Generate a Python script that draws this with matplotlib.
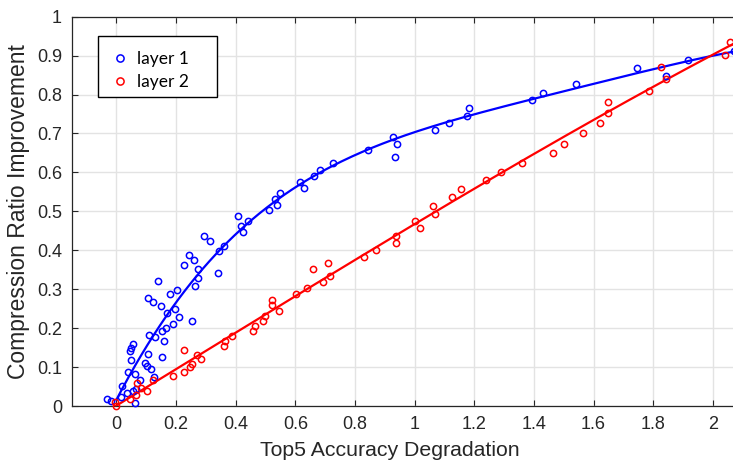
import numpy as np
import matplotlib
matplotlib.use("Agg")
import matplotlib.pyplot as plt
from matplotlib.patches import Rectangle

# layer 1 measurements
layer1_x = [-0.033, -0.019, 0.062, 0.014, 0.020, 0.037, 0.055, 0.065, 0.039, 0.062,
            0.078, 0.126, 0.048, 0.044, 0.050, 0.057, 0.097, 0.104, 0.116, 0.107,
            0.108, 0.129, 0.154, 0.159, 0.154, 0.166, 0.191, 0.209, 0.195, 0.169,
            0.148, 0.106, 0.122, 0.139, 0.181, 0.202, 0.252, 0.265, 0.272, 0.274,
            0.260, 0.243, 0.227, 0.339, 0.293, 0.315, 0.343, 0.361, 0.409, 0.418,
            0.423, 0.441, 0.512, 0.532, 0.539, 0.547, 0.617, 0.630, 0.661, 0.682,
            0.726, 0.842, 0.927, 0.941, 0.934, 1.068, 1.116, 1.176, 1.182, 1.394,
            1.432, 1.540, 1.746, 1.843, 1.916, 2.070]
layer1_y = [0.019, 0.013, 0.007, 0.024, 0.052, 0.033, 0.039, 0.043, 0.087, 0.081,
            0.066, 0.074, 0.117, 0.141, 0.150, 0.158, 0.110, 0.102, 0.096, 0.134,
            0.183, 0.176, 0.126, 0.166, 0.192, 0.201, 0.210, 0.228, 0.248, 0.238,
            0.257, 0.278, 0.267, 0.320, 0.287, 0.298, 0.219, 0.308, 0.330, 0.352,
            0.375, 0.387, 0.363, 0.341, 0.436, 0.423, 0.399, 0.411, 0.489, 0.463,
            0.448, 0.476, 0.503, 0.531, 0.517, 0.547, 0.576, 0.560, 0.592, 0.607,
            0.623, 0.657, 0.692, 0.674, 0.640, 0.709, 0.728, 0.746, 0.766, 0.786,
            0.805, 0.826, 0.868, 0.847, 0.890, 0.913]

# layer 2 measurements
layer2_x = [0.000, -0.005, 0.046, 0.067, 0.082, 0.070, 0.103, 0.123, 0.189, 0.225,
            0.246, 0.255, 0.271, 0.285, 0.228, 0.360, 0.363, 0.386, 0.457, 0.463,
            0.493, 0.498, 0.545, 0.523, 0.523, 0.603, 0.640, 0.658, 0.692, 0.717,
            0.711, 0.831, 0.870, 0.936, 0.938, 1.001, 1.018, 1.060, 1.068, 1.124,
            1.156, 1.239, 1.289, 1.359, 1.463, 1.500, 1.565, 1.620, 1.649, 1.650,
            1.787, 1.827, 1.844, 2.041, 2.059]
layer2_y = [0.000, 0.009, 0.018, 0.028, 0.047, 0.058, 0.038, 0.067, 0.078, 0.088,
            0.099, 0.108, 0.132, 0.121, 0.143, 0.155, 0.167, 0.180, 0.192, 0.205,
            0.218, 0.232, 0.245, 0.259, 0.273, 0.288, 0.304, 0.351, 0.319, 0.335,
            0.367, 0.384, 0.401, 0.419, 0.437, 0.476, 0.456, 0.515, 0.494, 0.536,
            0.558, 0.580, 0.602, 0.625, 0.650, 0.674, 0.700, 0.726, 0.753, 0.781,
            0.809, 0.870, 0.840, 0.901, 0.935]

x_ticks = [0, 0.2, 0.4, 0.6, 0.8, 1, 1.2, 1.4, 1.6, 1.8, 2]
x_tick_labels = ["0", "0.2", "0.4", "0.6", "0.8", "1", "1.2", "1.4", "1.6", "1.8", "2"]
y_ticks = [0, 0.1, 0.2, 0.3, 0.4, 0.5, 0.6, 0.7, 0.8, 0.9, 1]
y_tick_labels = ["0", "0.1", "0.2", "0.3", "0.4", "0.5", "0.6", "0.7", "0.8", "0.9", "1"]

plt.rcParams["font.family"] = ["Liberation Sans", "DejaVu Sans"]
axis_color = "#262626"

W, H = 733, 461
fig = plt.figure(figsize=(W / 100, H / 100), dpi=100)
ax = fig.add_axes([71.7 / W, 55 / H, 1 - 71.7 / W + 0.001, (406 - 16.7) / H])
ax.set_xlim(-0.15, 2.07)
ax.set_ylim(0, 1)

# polynomial trend lines fitted to each layer
xs = np.linspace(0, 2.07, 300)
fit1 = np.polyval(np.polyfit(layer1_x, layer1_y, 4), xs)
fit2 = np.polyval(np.polyfit(layer2_x, layer2_y, 3), xs)

ax.plot(layer1_x, layer1_y, linestyle="none", marker="o", ms=4.5, mew=1.1,
        mfc="none", mec="#0000ff", label="layer 1", clip_on=False, zorder=3)
ax.plot(layer2_x, layer2_y, linestyle="none", marker="o", ms=4.5, mew=1.1,
        mfc="none", mec="#ff0000", label="layer 2", clip_on=False, zorder=3)
ax.plot(xs, fit1, color="#0000ff", lw=1.6, zorder=2)
ax.plot(xs, fit2, color="#ff0000", lw=1.6, zorder=2)

ax.set_xticks(x_ticks)
ax.set_xticklabels(x_tick_labels)
ax.set_yticks(y_ticks)
ax.set_yticklabels(y_tick_labels)
ax.tick_params(direction="in", length=4, width=0.8, color=axis_color,
               labelcolor=axis_color, labelsize=13, top=True, right=False, pad=7)
ax.grid(True, color="#e3e3e3", lw=1)
ax.set_axisbelow(True)
for side in ("left", "bottom", "top"):
    ax.spines[side].set_color(axis_color)
    ax.spines[side].set_linewidth(0.9)
ax.spines["right"].set_visible(False)

ax.set_xlabel("Top5 Accuracy Degradation", fontsize=15.3, color=axis_color)
ax.xaxis.set_label_coords((389 - 71.7) / (W - 71.7), -35 / 389.3)
ax.set_ylabel("Compression Ratio Improvement", fontsize=16.5, color=axis_color)
ax.yaxis.set_label_coords(-42 / 661.3, 0.5)

# legend box
fig.patches.append(Rectangle((98.3 / W, 1 - 96.7 / H), (216.7 - 98.3) / W, (96.7 - 36) / H,
                             transform=fig.transFigure, facecolor="white",
                             edgecolor="black", lw=1.0, zorder=4))
handles, labels = ax.get_legend_handles_labels()
leg = fig.legend(handles, labels, loc="upper left",
                 bbox_to_anchor=(98.3 / W, 1 - 37 / H), bbox_transform=fig.transFigure,
                 borderaxespad=0, frameon=False, handlelength=0.9, handletextpad=0.51,
                 borderpad=0.8, labelspacing=0.43, markerscale=1.15,
                 prop={"family": "Lato", "size": 12.5})
leg.set_zorder(5)

fig.savefig("out.png", dpi=100)
